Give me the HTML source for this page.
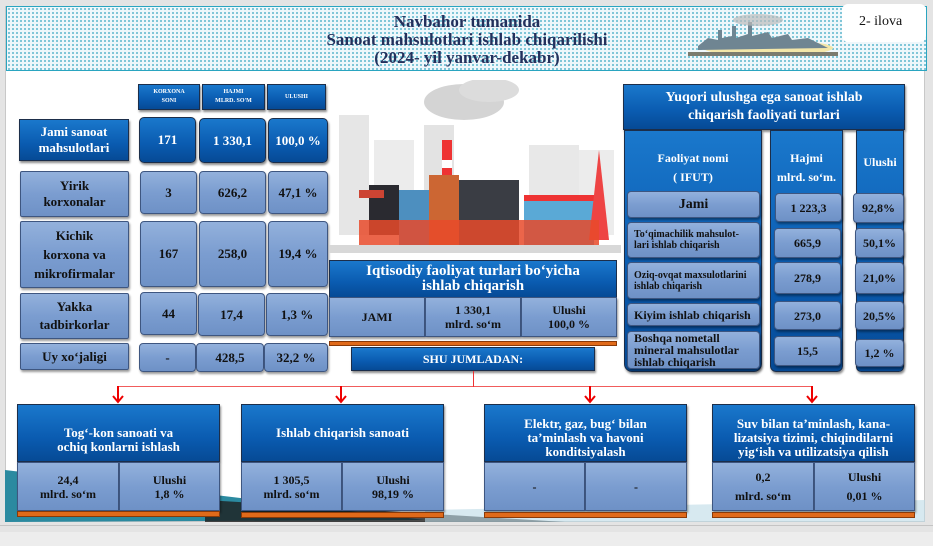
<!DOCTYPE html>
<html><head><meta charset="utf-8"><style>
*{margin:0;padding:0;box-sizing:border-box}
body{width:933px;height:546px;background:#e4e4e4;position:relative;overflow:hidden;font-family:"Liberation Serif",serif;font-weight:bold}
.a{position:absolute}
.slide{left:5px;top:6px;width:920px;height:516px;background:#fff;border:1px solid #c8c8c8}
.ban{left:6px;top:6px;width:921px;height:65px;border:1px solid #2aa5c0;background-color:#eef7fb;background-image:radial-gradient(#5bb6cc 0.8px,transparent 1px);background-size:4px 4px}
.t{color:#23305c;text-align:center;font-size:17px;line-height:18px}
.db{background:linear-gradient(#1a78cc,#0a5bb0 60%,#064a95);color:#fff;border:1px solid #1c2e4a;box-shadow:1px 2px 2px rgba(0,0,0,.45);display:flex;align-items:center;justify-content:center;text-align:center}
.lb{background:linear-gradient(#93b1dc,#7b9dd0 50%,#6e91c6);color:#111;border:1px solid #3e5680;box-shadow:1px 2px 2px rgba(0,0,0,.4);display:flex;align-items:center;justify-content:center;text-align:center;border-radius:4px}
.hd{font-size:6px;line-height:9px}
.f13{font-size:13px;line-height:16px}
.f12{font-size:12px;line-height:14px}
.f10{font-size:10px;line-height:11px;text-align:left;justify-content:flex-start;padding-left:6px}
.or{background:#e06a1a;border:1px solid #8a3a08}
.rl{background:#e33}
</style></head><body>
<div class="a slide"></div>
<div class="a ban"></div>
<div class="a" style="left:842px;top:4px;width:84px;height:38px;background:#fff;border-radius:6px"></div>
<div class="a" style="left:859px;top:14px;font-family:'Liberation Serif',serif;font-weight:normal;font-size:14px;color:#111">2- ilova</div>
<svg class="a" style="left:688px;top:8px" width="150" height="52">
<ellipse cx="80" cy="40" rx="65" ry="8" fill="#f3e6a8"/>
<path d="M10 38 L20 30 L30 32 L30 22 L34 22 L34 30 L44 28 L44 18 L48 18 L48 30 L60 26 L60 14 L64 14 L64 28 L80 24 L84 30 L100 26 L104 32 L120 30 L140 40 L10 42Z" fill="#6f8592"/>
<path d="M0 44 L150 44 L150 48 L0 48Z" fill="#7b7b6e"/>
<ellipse cx="70" cy="12" rx="25" ry="6" fill="#bbb" opacity=".7"/>
</svg>
<div class="a t" style="left:280px;top:13px;width:374px">Navbahor tumanida<br>Sanoat mahsulotlari ishlab chiqarilishi<br>(2024- yil yanvar-dekabr)</div>

<!-- left table headers -->
<div class="a db hd" style="left:138px;top:84px;width:62px;height:26px">KORXONA<br>SONI</div>
<div class="a db hd" style="left:202px;top:84px;width:63px;height:26px">HAJMI<br>MLRD. SO'M</div>
<div class="a db hd" style="left:267px;top:84px;width:59px;height:26px">ULUSHI</div>

<div class="a db f13" style="left:19px;top:119px;width:110px;height:42px">Jami sanoat<br>mahsulotlari</div>
<div class="a db f13" style="left:139px;top:117px;width:57px;height:46px;border-radius:5px">171</div>
<div class="a db f13" style="left:199px;top:118px;width:67px;height:45px;border-radius:5px">1 330,1</div>
<div class="a db f13" style="left:268px;top:118px;width:60px;height:45px;border-radius:5px">100,0 %</div>

<div class="a lb f13" style="left:20px;top:171px;width:109px;height:46px;border-radius:2px">Yirik<br>korxonalar</div>
<div class="a lb f13" style="left:140px;top:171px;width:57px;height:43px">3</div>
<div class="a lb f13" style="left:199px;top:171px;width:67px;height:43px">626,2</div>
<div class="a lb f13" style="left:268px;top:171px;width:60px;height:43px">47,1 %</div>

<div class="a lb f13" style="left:20px;top:221px;width:109px;height:67px;border-radius:2px;line-height:19px">Kichik<br>korxona va<br>mikrofirmalar</div>
<div class="a lb f13" style="left:140px;top:221px;width:57px;height:66px">167</div>
<div class="a lb f13" style="left:199px;top:221px;width:67px;height:66px">258,0</div>
<div class="a lb f13" style="left:268px;top:221px;width:60px;height:66px">19,4 %</div>

<div class="a lb f13" style="left:20px;top:293px;width:109px;height:46px;border-radius:2px;line-height:18px">Yakka<br>tadbirkorlar</div>
<div class="a lb f13" style="left:140px;top:292px;width:57px;height:43px">44</div>
<div class="a lb f13" style="left:198px;top:293px;width:67px;height:43px">17,4</div>
<div class="a lb f13" style="left:266px;top:293px;width:62px;height:43px">1,3 %</div>

<div class="a lb f13" style="left:20px;top:343px;width:109px;height:27px;border-radius:2px">Uy xo‘jaligi</div>
<div class="a lb f13" style="left:139px;top:343px;width:57px;height:29px">-</div>
<div class="a lb f13" style="left:196px;top:343px;width:68px;height:29px">428,5</div>
<div class="a lb f13" style="left:264px;top:343px;width:64px;height:29px">32,2 %</div>

<!-- middle illustration -->
<svg class="a" style="left:329px;top:80px" width="292" height="178">
<ellipse cx="135" cy="22" rx="40" ry="18" fill="#d4d4d4"/>
<ellipse cx="160" cy="10" rx="30" ry="12" fill="#dcdcdc"/>
<rect x="10" y="35" width="30" height="120" fill="#e6e6e6"/>
<rect x="45" y="60" width="40" height="95" fill="#ececec"/>
<rect x="95" y="45" width="30" height="110" fill="#e3e3e3"/>
<rect x="200" y="65" width="50" height="90" fill="#e8e8e8"/>
<rect x="250" y="70" width="35" height="85" fill="#ececec"/>
<rect x="113" y="60" width="10" height="100" fill="#e33"/>
<rect x="113" y="80" width="10" height="8" fill="#fff"/>
<rect x="113" y="110" width="10" height="8" fill="#fff"/>
<rect x="40" y="105" width="30" height="50" fill="#2a2a30"/>
<rect x="30" y="110" width="25" height="8" fill="#c43"/>
<rect x="70" y="110" width="45" height="55" fill="#4d8fbf"/>
<rect x="130" y="100" width="60" height="65" fill="#3a3d44"/>
<rect x="195" y="120" width="70" height="45" fill="#5aa9d6"/>
<rect x="195" y="115" width="70" height="6" fill="#e33"/>
<rect x="100" y="95" width="30" height="70" fill="#c63" />
<path d="M270 70 L280 160 L260 160Z" fill="#e44"/>
<rect x="30" y="140" width="240" height="25" fill="#e84a2a" opacity=".85"/>
<rect x="0" y="165" width="292" height="8" fill="#d8d8d8"/>
</svg>

<!-- Iqtisodiy box -->
<div class="a db" style="left:329px;top:260px;width:288px;height:38px;font-size:15px;line-height:15px;box-shadow:none">Iqtisodiy faoliyat turlari bo‘yicha<br>ishlab chiqarish</div>
<div class="a lb f12" style="left:329px;top:297px;width:96px;height:40px;border-radius:0">JAMI</div>
<div class="a lb f12" style="left:425px;top:297px;width:96px;height:40px;border-radius:0">1 330,1<br>mlrd. so‘m</div>
<div class="a lb f12" style="left:521px;top:297px;width:96px;height:40px;border-radius:0">Ulushi<br>100,0 %</div>
<div class="a or" style="left:329px;top:341px;width:288px;height:5px"></div>
<div class="a db f12" style="left:351px;top:347px;width:244px;height:24px">SHU JUMLADAN:</div>

<!-- connectors -->
<div class="a rl" style="left:473px;top:371px;width:1px;height:16px"></div>
<div class="a rl" style="left:118px;top:386px;width:695px;height:1px;opacity:.8"></div>
<svg class="a" style="left:0;top:386px" width="933" height="20">
<g stroke="#e00" stroke-width="2" fill="none">
<path d="M118 0 V16 M113 10 L118 16 L123 10"/>
<path d="M341 0 V16 M336 10 L341 16 L346 10"/>
<path d="M590 0 V16 M585 10 L590 16 L595 10"/>
<path d="M812 0 V16 M807 10 L812 16 L817 10"/>
</g></svg>

<!-- bottom decoration -->
<svg class="a" style="left:5px;top:440px" width="920" height="82">
<path d="M0 30 L420 80 L0 82Z" fill="#2b8aa0"/>
<path d="M200 60 L560 82 L200 82Z" fill="#1e1e1e" opacity=".8"/>
<path d="M420 70 L920 60 L920 82 L420 82Z" fill="#bcdbe6" opacity=".6"/>
</svg>

<!-- right panel -->
<div class="a db" style="left:623px;top:84px;width:282px;height:46px;font-size:14px;line-height:18px">Yuqori ulushga ega sanoat ishlab<br>chiqarish faoliyati turlari</div>
<div class="a db" style="left:624px;top:130px;width:138px;height:242px;border-radius:0 0 8px 8px;align-items:flex-start;padding-top:18px;font-size:12px;line-height:19px">Faoliyat nomi<br>( IFUT)</div>
<div class="a db" style="left:770px;top:130px;width:73px;height:242px;border-radius:0 0 6px 6px;align-items:flex-start;padding-top:18px;font-size:12px;line-height:19px">Hajmi<br>mlrd. so‘m.</div>
<div class="a db" style="left:856px;top:130px;width:48px;height:242px;border-radius:0 0 5px 5px;align-items:flex-start;padding-top:24px;font-size:12px">Ulushi</div>

<div class="a lb" style="left:627px;top:191px;width:133px;height:27px;font-size:14px">Jami</div>
<div class="a lb f10" style="left:627px;top:222px;width:133px;height:36px">To‘qimachilik mahsulot-<br>lari ishlab chiqarish</div>
<div class="a lb f10" style="left:627px;top:262px;width:133px;height:37px">Oziq-ovqat maxsulotlarini<br>ishlab chiqarish</div>
<div class="a lb f12" style="left:627px;top:303px;width:133px;height:23px;justify-content:flex-start;padding-left:6px">Kiyim ishlab chiqarish</div>
<div class="a lb f12" style="left:627px;top:331px;width:133px;height:38px;justify-content:flex-start;padding-left:6px;text-align:left;line-height:12px">Boshqa nometall<br>mineral mahsulotlar<br>ishlab chiqarish</div>

<div class="a lb f12" style="left:775px;top:193px;width:67px;height:29px">1 223,3</div>
<div class="a lb f12" style="left:774px;top:228px;width:67px;height:30px">665,9</div>
<div class="a lb f12" style="left:774px;top:262px;width:67px;height:32px">278,9</div>
<div class="a lb f12" style="left:774px;top:301px;width:67px;height:29px">273,0</div>
<div class="a lb f12" style="left:774px;top:336px;width:67px;height:30px">15,5</div>

<div class="a lb f12" style="left:853px;top:193px;width:51px;height:30px">92,8%</div>
<div class="a lb f12" style="left:855px;top:228px;width:49px;height:30px">50,1%</div>
<div class="a lb f12" style="left:855px;top:262px;width:49px;height:32px">21,0%</div>
<div class="a lb f12" style="left:855px;top:301px;width:49px;height:29px">20,5%</div>
<div class="a lb f12" style="left:855px;top:339px;width:49px;height:28px">1,2 %</div>

<!-- bottom boxes -->
<div class="a db" style="left:17px;top:404px;width:203px;height:58px;font-size:13px;line-height:14px;padding-top:14px">Tog‘-kon sanoati va<br>ochiq konlarni ishlash</div>
<div class="a lb f12" style="left:17px;top:462px;width:102px;height:49px;border-radius:0">24,4<br>mlrd. so‘m</div>
<div class="a lb f12" style="left:119px;top:462px;width:101px;height:49px;border-radius:0">Ulushi<br>1,8 %</div>
<div class="a or" style="left:17px;top:511px;width:203px;height:6px"></div>

<div class="a db" style="left:241px;top:404px;width:203px;height:58px;font-size:13px">Ishlab chiqarish sanoati</div>
<div class="a lb f12" style="left:241px;top:462px;width:101px;height:49px;border-radius:0">1 305,5<br>mlrd. so‘m</div>
<div class="a lb f12" style="left:342px;top:462px;width:102px;height:49px;border-radius:0">Ulushi<br>98,19 %</div>
<div class="a or" style="left:241px;top:512px;width:203px;height:6px"></div>

<div class="a db" style="left:484px;top:404px;width:203px;height:58px;font-size:13px;line-height:14px;padding-top:10px">Elektr, gaz, bug‘ bilan<br>ta’minlash va havoni<br>konditsiyalash</div>
<div class="a lb f12" style="left:484px;top:462px;width:101px;height:49px;border-radius:0">-</div>
<div class="a lb f12" style="left:585px;top:462px;width:102px;height:49px;border-radius:0">-</div>
<div class="a or" style="left:484px;top:512px;width:203px;height:6px"></div>

<div class="a db" style="left:712px;top:404px;width:203px;height:58px;font-size:13px;line-height:14px;padding-top:10px">Suv bilan ta’minlash, kana-<br>lizatsiya tizimi, chiqindilarni<br>yig‘ish va utilizatsiya qilish</div>
<div class="a lb f12" style="left:712px;top:462px;width:102px;height:49px;border-radius:0;line-height:19px">0,2<br>mlrd. so‘m</div>
<div class="a lb f12" style="left:814px;top:462px;width:101px;height:49px;border-radius:0;line-height:19px">Ulushi<br>0,01 %</div>
<div class="a or" style="left:712px;top:512px;width:203px;height:6px"></div>

<div class="a" style="left:0;top:525px;width:933px;height:1px;background:#c4c4c4"></div>
<div class="a" style="left:0;top:532px;width:933px;height:14px;background:#ededed"></div>
</body></html>
